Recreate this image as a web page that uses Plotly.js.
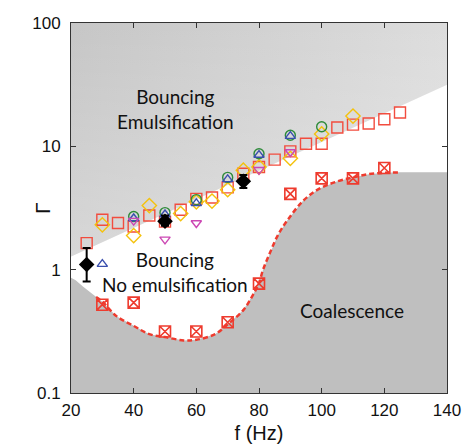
<!DOCTYPE html>
<html>
<head>
<meta charset="utf-8">
<script src="https://cdn.plot.ly/plotly-3.0.1.min.js"></script>
<style>html,body{margin:0;padding:0;background:#fff;}#chart{width:463px;height:448px;}</style>
</head>
<body>
<div id="chart"></div>
<script>
// Open red squares
var f_sq = [25,30,35,40,45,50,55,60,65,70,75,80,85,90,95,100,105,110,115,120,125];
var G_sq = [1.64,2.54,2.39,2.24,2.75,2.45,3.06,3.75,3.85,4.65,6.0,6.8,7.8,9.1,10.5,10.5,14.2,15.0,15.3,16.6,18.8];
// Yellow diamonds
var f_dia = [30,40,45,55,60,65,70,75,80,90,100,110];
var G_dia = [2.31,1.89,3.31,2.85,3.55,3.6,4.45,6.4,6.8,8.0,12.6,17.6];
// Green circles
var f_circ = [40,50,60,70,80,90,100];
var G_circ = [2.7,2.9,3.7,5.6,8.7,12.3,14.4];
// Blue up-triangles
var f_tri = [30,40,50,60,70,80,90];
var G_tri = [1.11,2.6,2.8,3.45,5.4,8.5,12.1];
// Magenta down-triangles
var f_dtri = [40,50,60,80,90];
var G_dtri = [2.5,1.76,2.39,6.45,9.0];
// Black diamonds with error bars
var f_bk = [25,50,75];
var G_bk = [1.1,2.47,5.2];
var G_bk_up = [0.4,0.28,0.65];
var G_bk_dn = [0.3,0.2,0.6];
// Crossed squares (coalescence threshold)
var f_coal = [30,40,50,60,70,80,90,100,110,120];
var G_coal = [0.52,0.54,0.315,0.315,0.375,0.77,4.12,5.5,5.5,6.67];
// Dashed threshold curve
var f_fit = [28,30,34.5,40,45,50,56,60,66,70,75,78,80,81.3,83.4,86,89,94,99,105,110,115,120,125];
var G_fit = [0.60,0.55,0.42,0.35,0.30,0.284,0.267,0.27,0.30,0.36,0.47,0.62,0.78,1.0,1.35,1.9,2.5,3.6,4.5,5.2,5.6,5.95,6.1,6.15];
// Coalescence region: left edge and right plateau
var f_coal_left = [20,21.5,23.8,26];
var G_coal_left = [0.86,0.82,0.73,0.66];
var f_coal_right = [140,140,20];
var G_coal_right = [6.15,0.1,0.1];
// Emulsification region
var f_emul = [20,140,140,20];
var G_emul = [100,100,31.6,1.28];
// Tick labels
var yTickVals = [0.1,1,10,100];
var yTickText = ['0.1','1','10','100'];
var xTickVals = [20,40,60,80,100,120,140];

var red = '#ee3b2e';
var traces = [];
traces.push({x:f_emul, y:G_emul, mode:'lines', fill:'toself', line:{width:0},
  fillcolor:'#d2d2d2',
  fillgradient:{type:'horizontal', colorscale:[[0,'#c6c6c6'],[1,'#dddddd']]},
  hoverinfo:'skip', showlegend:false});
traces.push({x:f_emul, y:G_emul, mode:'lines', fill:'toself', line:{width:0},
  fillcolor:'rgba(255,255,255,0)',
  fillgradient:{type:'vertical', colorscale:[[0,'rgba(255,255,255,0.3)'],[1,'rgba(255,255,255,0)']]},
  hoverinfo:'skip', showlegend:false});
traces.push({x:f_coal_left.concat(f_fit, f_coal_right), y:G_coal_left.concat(G_fit, G_coal_right),
  mode:'lines', fill:'toself', fillcolor:'#bfbfbf', line:{width:0}, hoverinfo:'skip', showlegend:false});
traces.push({x:f_fit, y:G_fit, mode:'lines', line:{color:red, width:2.5, dash:'5px,3px', shape:'spline'}, showlegend:false});
traces.push({x:f_coal, y:G_coal, mode:'markers', marker:{symbol:'square-x-open', size:11, color:red, line:{width:1.6, color:red}}, showlegend:false});
traces.push({x:f_sq, y:G_sq, mode:'markers', marker:{symbol:'square-open', size:11, color:'#f24c3e', line:{width:1.4}}, showlegend:false});
traces.push({x:f_dia, y:G_dia, mode:'markers', marker:{symbol:'diamond-open', size:11, color:'#f4c20d', line:{width:1.4}}, showlegend:false});
traces.push({x:f_circ, y:G_circ, mode:'markers', marker:{symbol:'circle-open', size:10, color:'#2e8b3a', line:{width:1.4}}, showlegend:false});
traces.push({x:f_tri, y:G_tri, mode:'markers', marker:{symbol:'triangle-up-open', size:9, color:'#3a4fae', line:{width:1.4}}, showlegend:false});
traces.push({x:f_dtri, y:G_dtri, mode:'markers', marker:{symbol:'triangle-down-open', size:9, color:'#cc48b4', line:{width:1.4}}, showlegend:false});
traces.push({x:f_bk, y:G_bk, mode:'markers', marker:{symbol:'diamond', size:12, color:'#000'},
  error_y:{type:'data', symmetric:false, array:G_bk_up, arrayminus:G_bk_dn, color:'#000', thickness:2, width:4}, showlegend:false});

var axisCommon = {showgrid:false, zeroline:false, showline:true, linecolor:'#333', linewidth:1, mirror:'ticks',
  ticks:'inside', ticklen:5, tickcolor:'#333', tickwidth:1,
  tickfont:{family:'Liberation Sans, Arial, sans-serif', size:17, color:'#111'}};

var layout = {
  width:463, height:448,
  margin:{l:71, r:16, t:23, b:55},
  paper_bgcolor:'#fff', plot_bgcolor:'#fff',
  xaxis:Object.assign({}, axisCommon, {range:[20,140], tickvals:xTickVals, ticklabelstandoff:2,
    title:{text:'f (Hz)', font:{family:'Liberation Sans, Arial, sans-serif', size:20, color:'#111'}, standoff:6}}),
  yaxis:Object.assign({}, axisCommon, {type:'log', range:[-1,2], tickvals:yTickVals, ticktext:yTickText, ticklabelstandoff:6}),
  annotations:[
    {xref:'paper', yref:'paper', x:-0.077, y:0.5, xanchor:'center', yanchor:'middle', text:'Γ', textangle:-90, showarrow:false,
      font:{family:'Liberation Sans, Arial, sans-serif', size:21, color:'#111'}},
    {xref:'paper', yref:'paper', x:0.277, y:0.768, xanchor:'center', yanchor:'middle', text:'Bouncing<br>Emulsification', showarrow:false,
      font:{family:'Lato, sans-serif', size:19, color:'#111'}, align:'center'},
    {xref:'paper', yref:'paper', x:0.277, y:0.328, xanchor:'center', yanchor:'middle', text:'Bouncing<br>No emulsification', showarrow:false,
      font:{family:'Lato, sans-serif', size:19, color:'#111'}, align:'center'},
    {xref:'paper', yref:'paper', x:0.747, y:0.224, xanchor:'center', yanchor:'middle', text:'Coalescence', showarrow:false,
      font:{family:'Lato, sans-serif', size:19, color:'#111'}, align:'center'}
  ]
};
Plotly.newPlot('chart', traces, layout, {displayModeBar:false, staticPlot:true});
</script>
</body>
</html>
